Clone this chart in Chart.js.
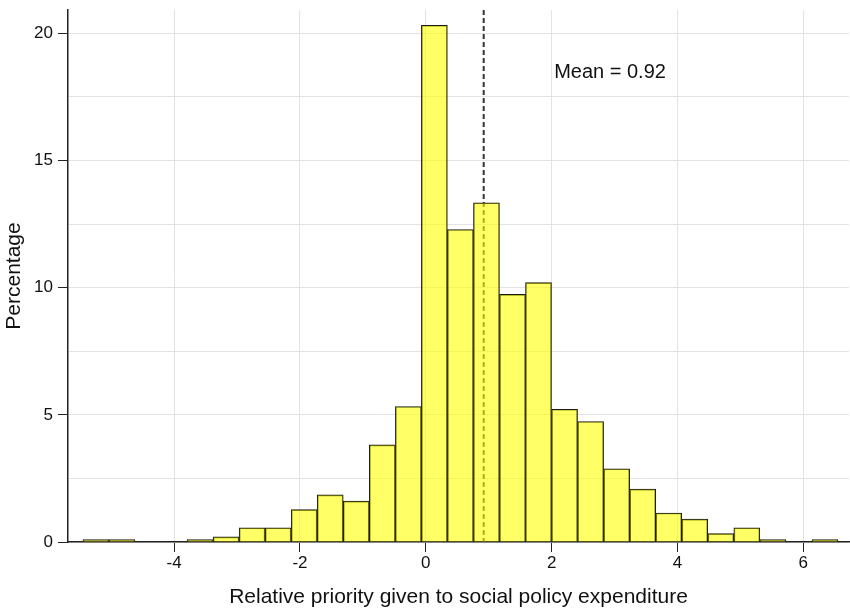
<!DOCTYPE html>
<html>
<head>
<meta charset="utf-8">
<script src="https://cdn.jsdelivr.net/npm/chart.js@4/dist/chart.umd.min.js"></script>
<style>
  html, body { margin: 0; padding: 0; background: #fff; }
  #wrap { width: 850px; height: 610px; }
</style>
</head>
<body>
<div id="wrap"><canvas id="hist"></canvas></div>
<script>
// Bin centres (29 bins, width about 0.414)
var binCenters = [-5.243, -4.829, -4.415, -4.002, -3.588, -3.174, -2.760, -2.346, -1.933, -1.519,
                  -1.105, -0.691, -0.277, 0.136, 0.550, 0.964, 1.378, 1.791, 2.205, 2.619,
                  3.033, 3.447, 3.860, 4.274, 4.688, 5.102, 5.516, 5.929, 6.343];

// Percentage in each bin (null = empty bin)
var percentages = [0.1, 0.1, null, null, 0.1, 0.2, 0.56, 0.56, 1.27, 1.85,
                   1.61, 3.82, 5.33, 20.32, 12.29, 13.34, 9.74, 10.2, 5.22, 4.74,
                   2.88, 2.08, 1.14, 0.9, 0.33, 0.56, 0.1, null, 0.1];

var xTicks = [-4, -2, 0, 2, 4, 6];
var yTicks = [0, 2.5, 5, 7.5, 10, 12.5, 15, 17.5, 20];

var meanValue = 0.92;
var meanLabel = "Mean = 0.92";
var meanLabelPos = { x: 2.04, y: 18.47 };

var points = binCenters.map(function (c, i) {
    return { x: c, y: percentages[i] };
});

// Stiplet linje for gennemsnit, tegnes bag søjlerne
var meanPlugin = {
    id: 'meanLine',
    beforeDatasetsDraw: function (chart) {
        var ctx = chart.ctx, xs = chart.scales.x, area = chart.chartArea;
        var px = xs.getPixelForValue(meanValue);
        ctx.save();
        ctx.strokeStyle = '#333';
        ctx.lineWidth = 2;
        ctx.setLineDash([5, 3]);
        ctx.beginPath();
        ctx.moveTo(px, area.top);
        ctx.lineTo(px, area.bottom);
        ctx.stroke();
        ctx.restore();
    },
    afterDatasetsDraw: function (chart) {
        var ctx = chart.ctx;
        ctx.save();
        ctx.fillStyle = '#111';
        ctx.font = '20px "Liberation Sans", Arial, sans-serif';
        ctx.textAlign = 'left';
        ctx.textBaseline = 'middle';
        ctx.fillText(meanLabel, chart.scales.x.getPixelForValue(meanLabelPos.x),
                     chart.scales.y.getPixelForValue(meanLabelPos.y));
        ctx.restore();
    }
};

var fontFamily = '"Liberation Sans", Arial, sans-serif';

var ctx = document.getElementById('hist').getContext('2d');
var chart = new Chart(ctx, {
    type: 'bar',
    data: {
        datasets: [{
            data: points,
            backgroundColor: 'rgba(255, 255, 0, 0.6)',
            borderColor: '#1a1a1a',
            borderWidth: 1,
            barPercentage: 1.0,
            categoryPercentage: 1.0
        }]
    },
    options: {
        responsive: true,
        maintainAspectRatio: false,
        animation: false,
        layout: { padding: { top: 10, right: 1, left: 0, bottom: 0 } },
        plugins: {
            legend: { display: false },
            tooltip: { enabled: false }
        },
        scales: {
            x: {
                type: 'linear',
                min: -5.687,
                max: 6.726,
                offset: false,
                afterBuildTicks: function (s) {
                    s.ticks = xTicks.map(function (v) { return { value: v }; });
                },
                afterFit: function (s) {
                    s.height = 68;
                    s.paddingLeft = 0;
                    s.paddingRight = 0;
                },
                grid: { offset: false, color: '#e3e3e3', tickColor: '#222', tickLength: 10 },
                border: { color: '#222', width: 1.5 },
                ticks: { color: '#111', font: { family: fontFamily, size: 17 }, padding: 1, maxRotation: 0 },
                title: {
                    display: true,
                    text: 'Relative priority given to social policy expenditure',
                    color: '#111',
                    font: { family: fontFamily, size: 21 },
                    padding: { top: 0, bottom: 0 }
                }
            },
            y: {
                min: 0,
                max: 20.92,
                afterBuildTicks: function (s) {
                    s.ticks = yTicks.map(function (v) { return { value: v }; });
                },
                afterFit: function (s) {
                    s.width = 68;
                    s.paddingTop = 0;
                    s.paddingBottom = 0;
                },
                grid: {
                    color: '#e3e3e3',
                    tickLength: 10,
                    tickColor: function (c) {
                        return c.tick && c.tick.value % 5 === 0 ? '#222' : 'rgba(0,0,0,0)';
                    }
                },
                border: { color: '#222', width: 1.5 },
                ticks: {
                    color: '#111',
                    font: { family: fontFamily, size: 17 },
                    padding: 5,
                    callback: function (v) { return v % 5 === 0 ? v : ''; }
                },
                title: {
                    display: true,
                    text: 'Percentage',
                    color: '#111',
                    font: { family: fontFamily, size: 21 },
                    padding: { top: 2, bottom: 0 }
                }
            }
        }
    },
    plugins: [meanPlugin]
});
</script>
</body>
</html>
